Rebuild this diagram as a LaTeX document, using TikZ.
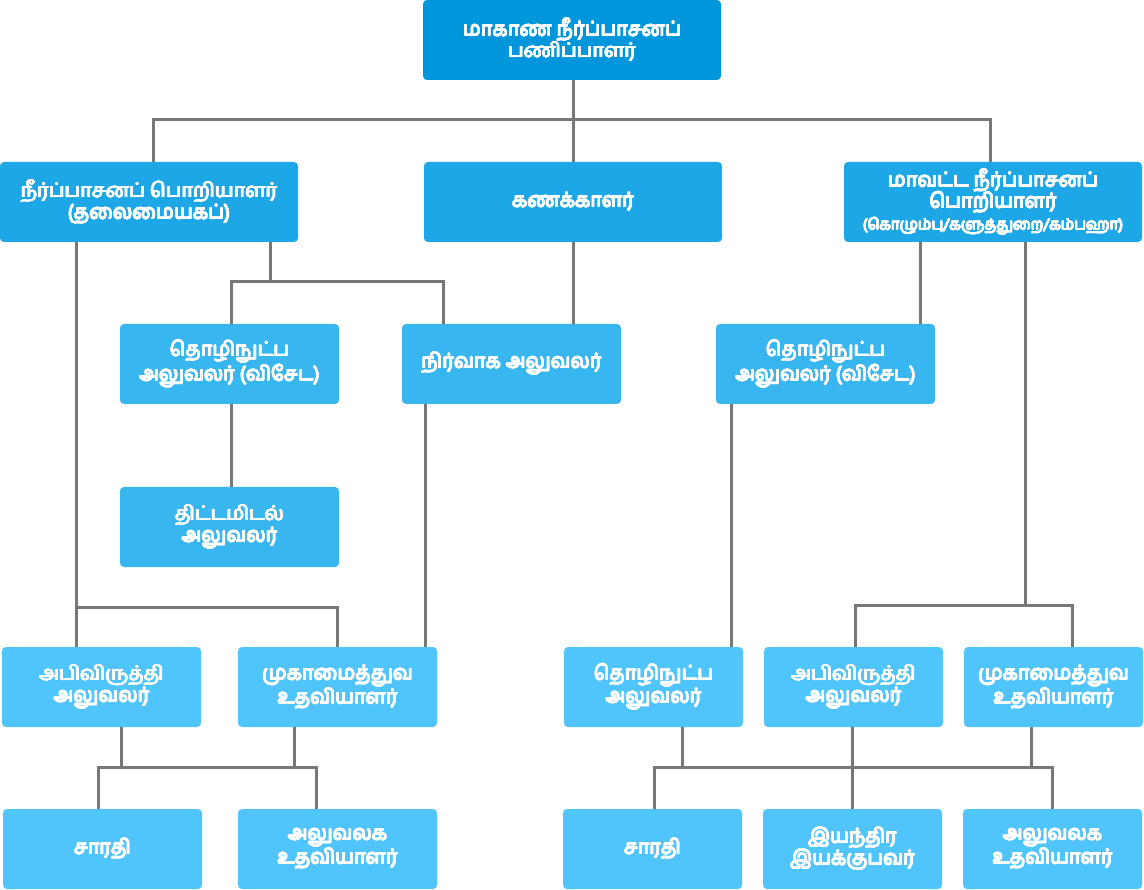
\documentclass[tikz,border=0pt]{standalone}
\usepackage{fontspec}
\usepackage{xcolor}
\usepackage[copies]{contour}
\newfontfamily\tamil[Script=Tamil]{Hind Madurai}
\definecolor{lvlA}{RGB}{0,150,219}
\definecolor{lvlB}{RGB}{29,167,230}
\definecolor{lvlC}{RGB}{55,182,239}
\definecolor{lvlD}{RGB}{80,197,253}
\definecolor{linegray}{RGB}{119,119,119}
\contourlength{0.45pt}
\contournumber{12}
\newcommand\heavy[1]{\contour{white}{#1}}

\begin{document}
\begin{tikzpicture}[x=1pt,y=-1pt,
  box/.style={rounded corners=4pt, text=white, align=center, inner sep=0pt,
    minimum height=80pt, font=\tamil\fontsize{20}{21.5}\selectfont},
  boxwide/.style={box, minimum width=298pt},
  boxmid/.style={box, minimum width=219pt},
  boxsmall/.style={box, minimum width=199pt},
  boxnarrow/.style={box, minimum width=179pt},
  link/.style={draw=linegray, line width=3pt}]
  \useasboundingbox (0,0) rectangle (1144,890);

  % top
  \node[boxwide, fill=lvlA] (top) at (572,40) {\heavy{மாகாண நீர்ப்பாசனப்}\\\heavy{பணிப்பாளர்}};

  % second row
  \node[boxwide, fill=lvlB] (hq)  at (149,202) {\heavy{நீர்ப்பாசனப் பொறியாளர்}\\\heavy{(தலைமையகப்)}};
  \node[boxwide, fill=lvlB] (acc) at (573,202) {\heavy{கணக்காளர்}};
  \node[boxwide, fill=lvlB] (dep) at (993,202)
    {\heavy{மாவட்ட நீர்ப்பாசனப்}\\\heavy{பொறியாளர்}\\{\fontsize{15}{17}\selectfont\heavy{(கொழும்பு/களுத்துறை/கம்பஹா)}}};

  % third row
  \node[boxmid, fill=lvlC] (tos1) at (229.5,364) {\heavy{தொழிநுட்ப}\\\heavy{அலுவலர் (விசேட)}};
  \node[boxmid, fill=lvlC] (adm)  at (511.5,364) {\heavy{நிர்வாக அலுவலர்}};
  \node[boxmid, fill=lvlC] (tos2) at (825.5,364) {\heavy{தொழிநுட்ப}\\\heavy{அலுவலர் (விசேட)}};
  \node[boxmid, fill=lvlC] (plan) at (229.5,527) {\heavy{திட்டமிடல்}\\\heavy{அலுவலர்}};

  % officers
  \node[boxsmall,  fill=lvlD] (dev1) at (101.5,687)  {\heavy{அபிவிருத்தி}\\\heavy{அலுவலர்}};
  \node[boxsmall,  fill=lvlD] (mgt1) at (337.5,687)  {\heavy{முகாமைத்துவ}\\\heavy{உதவியாளர்}};
  \node[boxnarrow, fill=lvlD] (to)   at (653.5,687)  {\heavy{தொழிநுட்ப}\\\heavy{அலுவலர்}};
  \node[boxnarrow, fill=lvlD] (dev2) at (853.5,687)  {\heavy{அபிவிருத்தி}\\\heavy{அலுவலர்}};
  \node[boxnarrow, fill=lvlD] (mgt2) at (1053.5,687) {\heavy{முகாமைத்துவ}\\\heavy{உதவியாளர்}};

  % staff
  \node[boxsmall,  fill=lvlD] (drv1) at (102.5,849)  {\heavy{சாரதி}};
  \node[boxsmall,  fill=lvlD] (off1) at (337.5,849)  {\heavy{அலுவலக}\\\heavy{உதவியாளர்}};
  \node[boxnarrow, fill=lvlD] (drv2) at (652.5,849)  {\heavy{சாரதி}};
  \node[boxnarrow, fill=lvlD] (mach) at (852.5,849)  {\heavy{இயந்திர}\\\heavy{இயக்குபவர்}};
  \node[boxnarrow, fill=lvlD] (off2) at (1052.5,849) {\heavy{அலுவலக}\\\heavy{உதவியாளர்}};

  % bus heights
  \coordinate (b1) at (0,120);
  \coordinate (b2) at (0,282);
  \coordinate (b3) at (0,607);
  \coordinate (b4) at (0,605);
  \coordinate (b5) at (0,767);

  % director to second row
  \draw[link] ([xshift=1]top.south) -- ([xshift=1]top.south |- b1);
  \draw[link] ([xshift=4]hq.north) |- ([xshift=-3]dep.north |- b1) -- ([xshift=-3]dep.north);
  \draw[link] (acc.north) -- (acc.north |- b1);

  % head office branch
  \draw[link] ([xshift=121]hq.south) -- ([xshift=121]hq.south |- b2);
  \draw[link] ([xshift=1.5]tos1.north) |- ([xshift=-68.5]adm.north |- b2) -- ([xshift=-68.5]adm.north);
  \draw[link] (acc.south) -- (acc.south |- adm.north);
  \draw[link] ([xshift=1.5]tos1.south) -- ([xshift=1.5]plan.north);
  \draw[link] ([xshift=-73]hq.south) -- ([xshift=-73]hq.south |- dev1.north);
  \draw[link] ([xshift=-73]hq.south |- b3) -| (mgt1.north);
  \draw[link] ([xshift=-86.5]adm.south) -- ([xshift=-86.5]adm.south |- mgt1.north);

  % district branch
  \draw[link] ([xshift=-73]dep.south) -- ([xshift=-73]dep.south |- tos2.north);
  \draw[link] ([xshift=32]dep.south) -- ([xshift=32]dep.south |- b4);
  \draw[link] ([xshift=1.5]dev2.north) |- ([xshift=18.5]mgt2.north |- b4) -- ([xshift=18.5]mgt2.north);
  \draw[link] ([xshift=-94.5]tos2.south) -- ([xshift=-94.5]tos2.south |- to.north);

  % staff, left
  \draw[link] ([xshift=19.5]dev1.south) -- ([xshift=19.5]dev1.south |- b5);
  \draw[link] ([xshift=-43.5]mgt1.south) -- ([xshift=-43.5]mgt1.south |- b5);
  \draw[link] ([xshift=-4.5]drv1.north) |- ([xshift=-21.5]off1.north |- b5) -- ([xshift=-21.5]off1.north);

  % staff, right
  \draw[link] ([xshift=28.5]to.south) -- ([xshift=28.5]to.south |- b5);
  \draw[link] ([xshift=-1.5]dev2.south) -- ([xshift=-1.5]dev2.south |- mach.north);
  \draw[link] ([xshift=-22.5]mgt2.south) -- ([xshift=-22.5]mgt2.south |- b5);
  \draw[link] ([xshift=1.5]drv2.north) |- ([xshift=-0.5]off2.north |- b5) -- ([xshift=-0.5]off2.north);
\end{tikzpicture}
\end{document}
